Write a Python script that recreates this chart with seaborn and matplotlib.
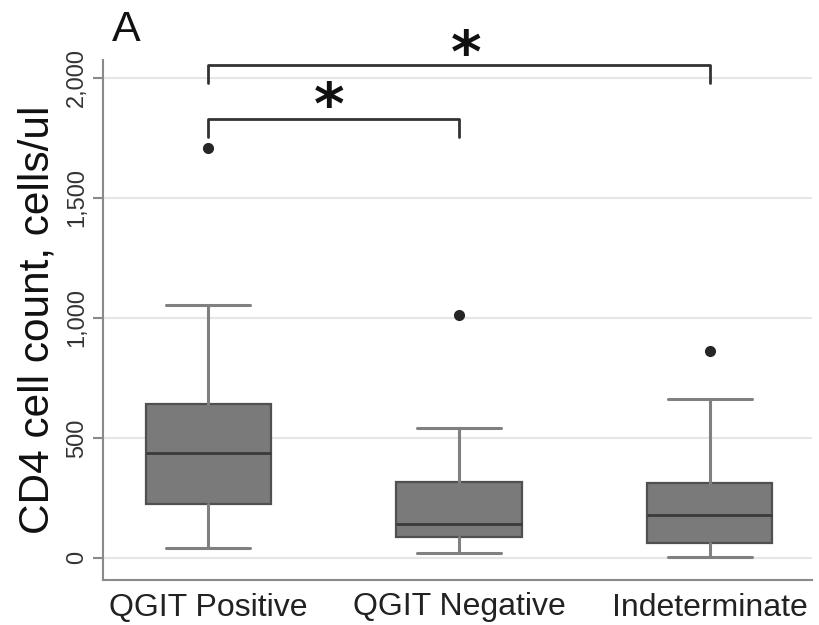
import matplotlib
matplotlib.use("Agg")
import matplotlib.pyplot as plt
import seaborn as sns

# summary statistics (cells/ul)
groups = ["QGIT Positive", "QGIT Negative", "Indeterminate"]
whisker_low = [40, 20, 4]
quartile_1 = [225, 89, 61]
medians = [436, 143, 178]
quartile_3 = [642, 318, 311]
whisker_high = [1053, 542, 662]
outliers = [[1707], [1014], [861]]

# significance brackets: (group a, group b, height)
comparisons = [(0, 1, 1829), (0, 2, 2054)]

sns.set_theme(style="whitegrid")
plt.rcParams['font.family'] = ['Liberation Sans', 'DejaVu Sans']

stats = []
for i, g in enumerate(groups):
    stats.append(dict(label=g, whislo=whisker_low[i], q1=quartile_1[i], med=medians[i],
                      q3=quartile_3[i], whishi=whisker_high[i], fliers=outliers[i]))

fig = plt.figure(figsize=(8.19, 6.25), dpi=100)
ax = fig.add_axes([0.126, 0.072, 0.866, 0.832])

ax.bxp(stats, positions=range(len(groups)), widths=0.5, capwidths=0.335,
       patch_artist=True,
       boxprops=dict(facecolor="#7a7a7a", edgecolor="#505050", linewidth=1.6),
       medianprops=dict(color="#3a3a3a", linewidth=2),
       whiskerprops=dict(color="#808080", linewidth=2.2),
       capprops=dict(color="#808080", linewidth=2.2),
       flierprops=dict(marker="o", markersize=7, markerfacecolor="#262626",
                       markeredgecolor="#262626"))

ax.set_xlim(-0.42, 2.41)
ax.set_ylim(-92, 2075)
ax.set_yticks([0, 500, 1000, 1500, 2000])
ax.set_yticklabels(["0", "500", "1,000", "1,500", "2,000"], rotation=90, va="center",
                   fontsize=17, color="#333333")
ax.set_xticks(range(len(groups)))
ax.set_xticklabels(groups, fontsize=23, color="#222222")
ax.set_ylabel("CD4 cell count, cells/ul", fontsize=30.5, color="#111111", labelpad=6)

ax.grid(axis="y", color="#e6e6e6", linewidth=1.5)
ax.grid(axis="x", visible=False)
sns.despine(ax=ax)
for side in ["left", "bottom"]:
    ax.spines[side].set_color("#8a8a8a")
    ax.spines[side].set_linewidth(1.5)
ax.tick_params(axis="y", length=7, width=1.5, color="#8a8a8a", left=True, pad=4)
ax.tick_params(axis="x", length=0, pad=9)

# significance brackets
for a, b, h in comparisons:
    ax.plot([a, a, b, b], [h - 75, h, h, h - 75], color="#333333", linewidth=2,
            clip_on=False)
ax.text(0.48, 1760, "*", ha="center", va="bottom", fontsize=42, fontweight="bold",
        family="DejaVu Sans", color="#111111", clip_on=False)
ax.text(1.03, 1975, "*", ha="center", va="bottom", fontsize=42, fontweight="bold",
        family="DejaVu Sans", color="#111111", clip_on=False)

fig.text(0.137, 0.935, "A", fontsize=31, color="#111111")

fig.savefig("out.png", dpi=100)
